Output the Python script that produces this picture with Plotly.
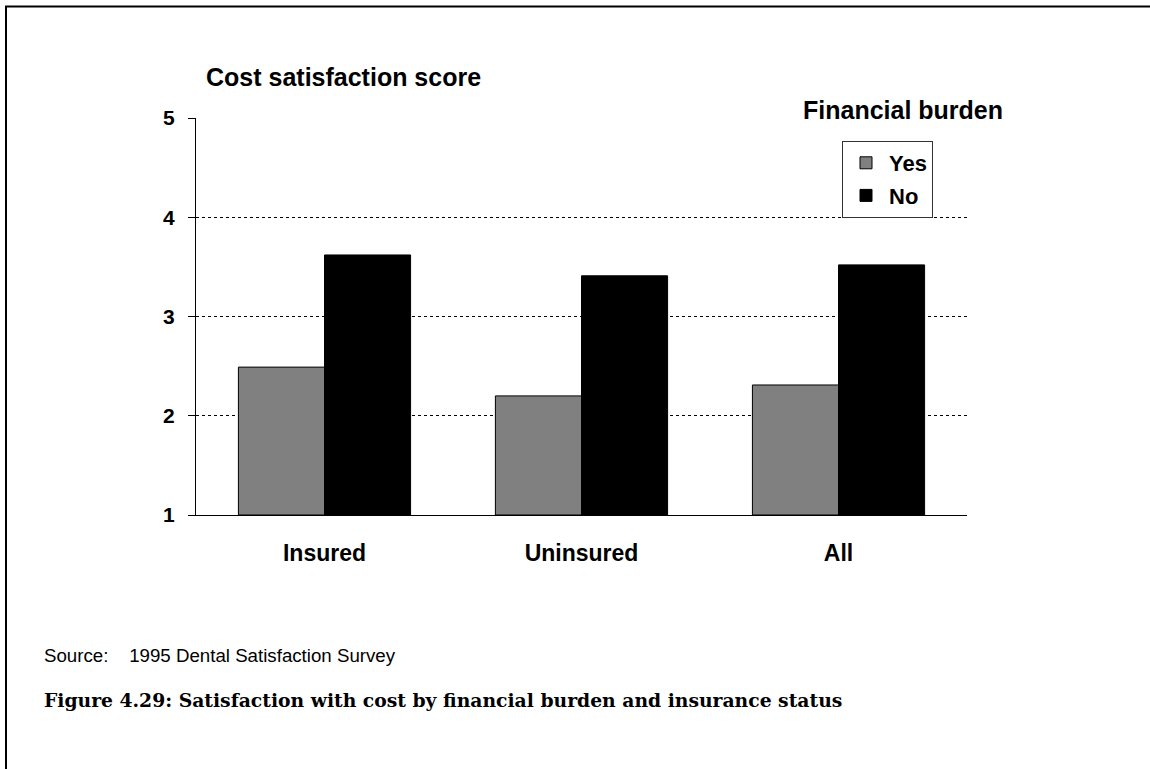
import plotly.graph_objects as go

categories = ["Insured", "Uninsured", "All"]
yes_values = [2.49, 2.20, 2.31]
no_values = [3.62, 3.41, 3.52]
series_names = ["Yes", "No"]
y_ticks = [1, 2, 3, 4, 5]

W, H = 1150, 769
ML, MR, MT, MB = 196, 183, 118, 254
PW = W - ML - MR
PH = H - MT - MB

def px_x(p):
    return (p - ML) / PW

def px_y(p):
    return (H - MB - p) / PH

SANS = "Liberation Sans, Arial, sans-serif"

fig = go.Figure()
fig.add_trace(go.Bar(x=categories, y=[v - 1 for v in yes_values], base=1, name=series_names[0],
                     legendgroup="g1",
                     marker=dict(color="#808080", line=dict(color="#000000", width=1)),
                     hoverinfo="skip"))
fig.add_trace(go.Bar(x=categories, y=[v - 1 for v in no_values], base=1, name=series_names[1],
                     legendgroup="g2",
                     marker=dict(color="#000000", line=dict(color="#000000", width=1)),
                     hoverinfo="skip"))

fig.update_layout(
    width=W, height=H,
    margin=dict(l=ML, r=MR, t=MT, b=MB, autoexpand=False),
    paper_bgcolor="white", plot_bgcolor="white",
    barmode="group", bargap=0.33, bargroupgap=0,
    font=dict(family=SANS, color="black"),
    showlegend=True,
    legend=dict(x=px_x(842), y=px_y(141), xanchor="left", yanchor="top",
                bordercolor="#333333", borderwidth=1, bgcolor="white",
                font=dict(family=SANS, size=22, color="black", weight="bold"),
                itemwidth=36, tracegroupgap=1),
    xaxis=dict(range=[-0.5, 2.5], showgrid=False, showline=True, linecolor="black", linewidth=1,
               ticks="", tickfont=dict(family=SANS, size=23, color="black", weight="bold"),
               ticklabelstandoff=17, fixedrange=True),
    yaxis=dict(range=[1, 5], tickvals=y_ticks, showgrid=True, gridcolor="black", gridwidth=1,
               griddash="dot", showline=True, linecolor="black", linewidth=1,
               ticks="outside", ticklen=7, tickcolor="black",
               tickfont=dict(family=SANS, size=21, color="black", weight="bold"),
               ticklabelstandoff=9, zeroline=False, fixedrange=True),
)

# white cover behind the legend title (gridline gap)
fig.add_shape(type="rect", xref="paper", yref="paper",
              x0=px_x(766), x1=px_x(1005), y0=px_y(124), y1=px_y(96),
              fillcolor="white", line=dict(width=0), layer="above")

# frame (left and top edges) as one open path running off the page
frame_path = "M {x0},{yb} L {x0},{yt} L {x1},{yt}".format(
    x0=px_x(6), yb=px_y(900), yt=px_y(6.5), x1=px_x(1400))
fig.add_shape(type="path", xref="paper", yref="paper", path=frame_path,
              line=dict(color="black", width=2), layer="above")

fig.add_annotation(text="Cost satisfaction score", xref="paper", yref="paper",
                   x=px_x(204), y=px_y(77), xanchor="left", yanchor="middle", showarrow=False,
                   font=dict(family=SANS, size=25, color="black", weight="bold"))
fig.add_annotation(text="Financial burden", xref="paper", yref="paper",
                   x=px_x(801), y=px_y(110), xanchor="left", yanchor="middle", showarrow=False,
                   font=dict(family=SANS, size=25, color="black", weight="bold"))
fig.add_annotation(text="Source:&nbsp;&nbsp;&nbsp; 1995 Dental Satisfaction Survey", xref="paper", yref="paper",
                   x=px_x(42), y=px_y(655), xanchor="left", yanchor="middle", showarrow=False,
                   font=dict(family=SANS, size=18.7, color="black"))
fig.add_annotation(text="Figure 4.29: Satisfaction with cost by financial burden and insurance status",
                   xref="paper", yref="paper",
                   x=px_x(42), y=px_y(700), xanchor="left", yanchor="middle", showarrow=False,
                   font=dict(family="DejaVu Serif, serif", size=18.75, color="black", weight="bold"))

fig.write_html("out.html", config={"displayModeBar": False},
               post_script="document.body.style.margin='0';document.body.style.overflow='hidden';")
